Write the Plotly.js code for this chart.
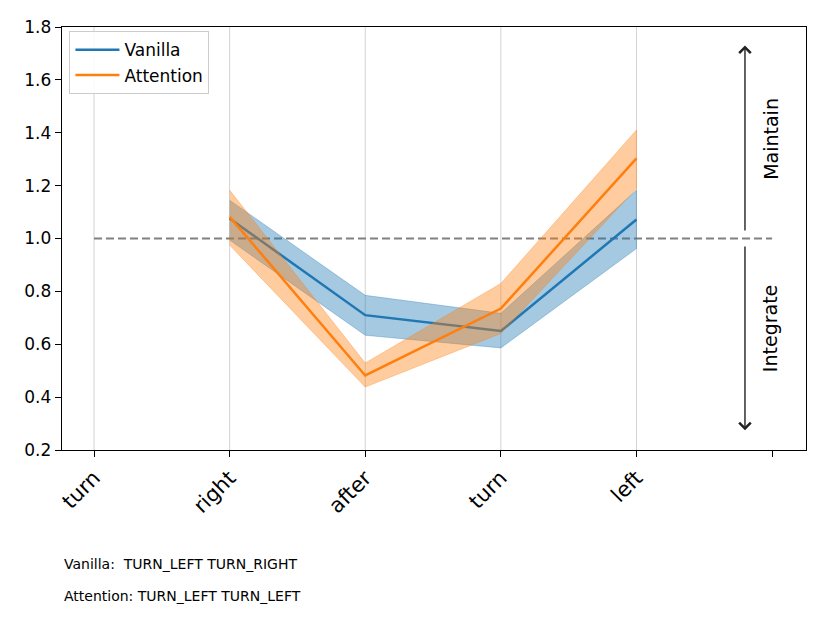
<!DOCTYPE html>
<html>
<head>
<meta charset="utf-8">
<script src="https://cdn.plot.ly/plotly-3.0.1.min.js"></script>
<style>html,body{margin:0;padding:0;background:#fff}#chart{width:830px;height:623px}</style>
</head>
<body>
<div id="chart"></div>
<script>
// Tick labels (position index 5 is an unlabelled tick)
const tickLabels = ['turn', 'right', 'after', 'turn', 'left', ''];
// Points where series are defined (indices into tickLabels)
const seriesX = [1, 2, 3, 4];

const vanillaMean  = [1.076, 0.710, 0.650, 1.072];
const vanillaUpper = [1.145, 0.785, 0.717, 1.183];
const vanillaLower = [0.994, 0.634, 0.586, 0.962];

const attentionMean  = [1.082, 0.482, 0.735, 1.303];
const attentionUpper = [1.183, 0.529, 0.830, 1.410];
const attentionLower = [0.975, 0.438, 0.641, 1.189];

const refLevel = 1.0;
const refX = [0, 5];
const gridX = [0, 1, 2, 3, 4];

const footerLines = ['Vanilla:  TURN_LEFT TURN_RIGHT', 'Attention: TURN_LEFT TURN_LEFT'];

const BLUE = '#1f77b4', ORANGE = '#ff7f0e';
const FONT = 'DejaVu Sans, sans-serif';

function band(x, up, lo, color) {
  return {
    x: x.concat(x.slice().reverse()),
    y: up.concat(lo.slice().reverse()),
    type: 'scatter', mode: 'lines', fill: 'toself',
    fillcolor: color, line: {width: 0.8, color: color},
    showlegend: false, hoverinfo: 'skip'
  };
}

const traces = [
  {x: refX, y: refX.map(() => refLevel), type: 'scatter', mode: 'lines',
   line: {color: '#808080', width: 2.2, dash: '8px,4px'}, showlegend: false},
  band(seriesX, vanillaUpper, vanillaLower, 'rgba(31,119,180,0.4)'),
  {x: seriesX, y: vanillaMean, type: 'scatter', mode: 'lines', name: 'Vanilla',
   line: {color: BLUE, width: 2.5}},
  band(seriesX, attentionUpper, attentionLower, 'rgba(255,127,14,0.4)'),
  {x: seriesX, y: attentionMean, type: 'scatter', mode: 'lines', name: 'Attention',
   line: {color: ORANGE, width: 2.5}}
];

const shapes = gridX.map(g => ({
  type: 'line', xref: 'x', yref: 'paper', x0: g, x1: g, y0: 0, y1: 1,
  line: {color: '#d3d3d3', width: 1}, layer: 'below'
}));

const arrowX = 4.8;
const annotations = [
  {x: arrowX, y: 1.73, ax: arrowX, ay: 1.025, xref: 'x', yref: 'y', axref: 'x', ayref: 'y',
   text: '', showarrow: true, arrowhead: 4, arrowsize: 1.6, arrowwidth: 1.4, arrowcolor: '#222'},
  {x: arrowX, y: 0.275, ax: arrowX, ay: 0.975, xref: 'x', yref: 'y', axref: 'x', ayref: 'y',
   text: '', showarrow: true, arrowhead: 4, arrowsize: 1.6, arrowwidth: 1.4, arrowcolor: '#222'},
  {x: 4.99, y: 1.376, xref: 'x', yref: 'y', text: 'Maintain', textangle: -90, showarrow: false,
   font: {family: FONT, size: 19, color: '#000'}},
  {x: 4.99, y: 0.66, xref: 'x', yref: 'y', text: 'Integrate', textangle: -90, showarrow: false,
   font: {family: FONT, size: 19, color: '#000'}},
  {x: 0, y: -0.27, xref: 'paper', yref: 'paper', xanchor: 'left', yanchor: 'middle',
   text: footerLines[0], showarrow: false, font: {family: FONT, size: 14, color: '#000'}},
  {x: 0, y: -0.345, xref: 'paper', yref: 'paper', xanchor: 'left', yanchor: 'middle',
   text: footerLines[1], showarrow: false, font: {family: FONT, size: 14, color: '#000'}}
];

const layout = {
  width: 830, height: 623,
  margin: {l: 62, r: 24, t: 27, b: 173},
  paper_bgcolor: '#fff', plot_bgcolor: '#fff',
  font: {family: FONT, color: '#000'},
  showlegend: true,
  legend: {x: 0.01, y: 0.99, xanchor: 'left', yanchor: 'top', bgcolor: 'rgba(255,255,255,0.9)',
           bordercolor: '#cccccc', borderwidth: 1, font: {family: FONT, size: 17},
           tracegroupgap: 0, itemwidth: 44},
  xaxis: {
    range: [-0.236, 5.25], tickmode: 'array', tickvals: tickLabels.map((_, i) => i),
    ticktext: tickLabels, tickangle: -45, tickfont: {family: FONT, size: 21},
    showgrid: false, zeroline: false, showline: true, linecolor: '#000', linewidth: 1.3,
    mirror: true, ticks: 'outside', ticklen: 6, tickcolor: '#000'
  },
  yaxis: {
    range: [0.2, 1.8], tickmode: 'linear', tick0: 0.2, dtick: 0.2, tickformat: '.1f',
    tickfont: {family: FONT, size: 17}, showgrid: false, zeroline: false,
    showline: true, linecolor: '#000', linewidth: 1.3, mirror: true,
    ticks: 'outside', ticklen: 6, tickcolor: '#000'
  },
  shapes: shapes,
  annotations: annotations
};

Plotly.newPlot('chart', traces, layout, {displayModeBar: false, staticPlot: true});
</script>
</body>
</html>
